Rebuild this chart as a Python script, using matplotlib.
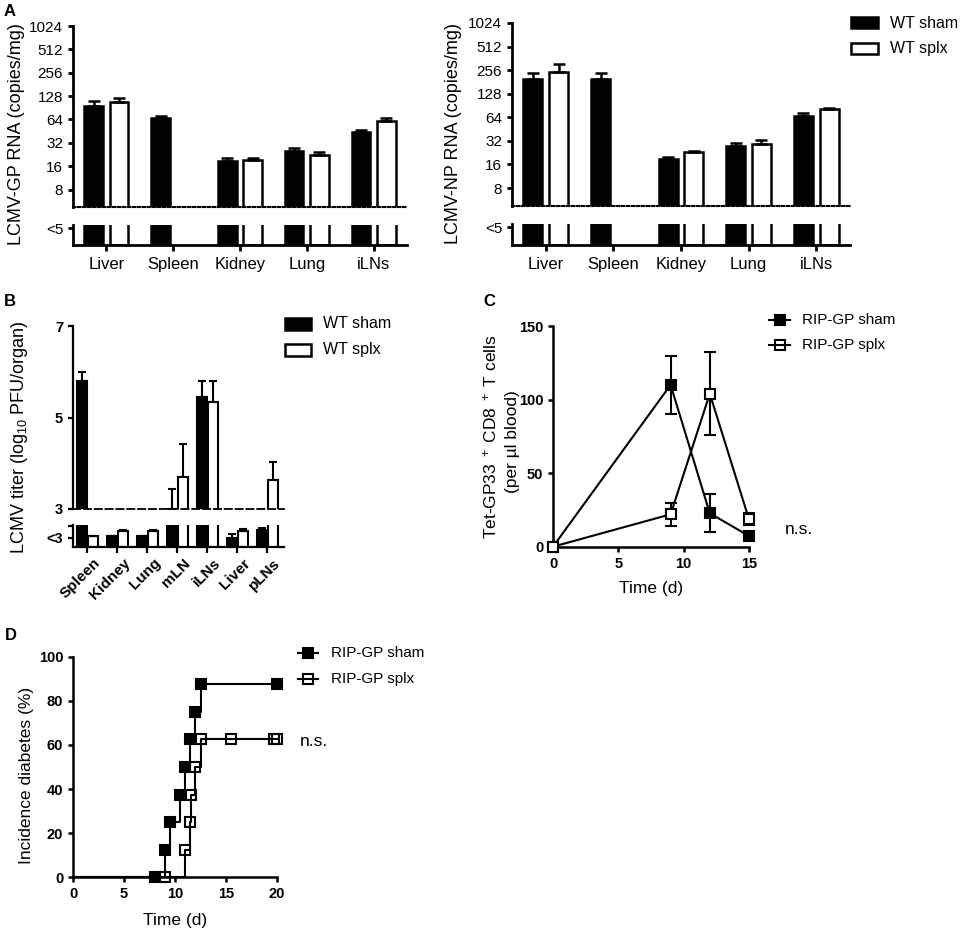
import numpy as np
import matplotlib
matplotlib.use('Agg')
import matplotlib.pyplot as plt
import matplotlib.transforms as mtrans
from matplotlib.patches import Rectangle
from matplotlib.lines import Line2D

plt.rcParams['font.family'] = ['Liberation Sans', 'DejaVu Sans']
plt.rcParams['mathtext.fontset'] = 'custom'
plt.rcParams['mathtext.rm'] = 'Liberation Sans'
plt.rcParams['mathtext.it'] = 'Liberation Sans:italic'
plt.rcParams['mathtext.bf'] = 'Liberation Sans:bold'
plt.rcParams['mathtext.default'] = 'regular'

# ---------------- data ----------------
organs_A = ['Liver', 'Spleen', 'Kidney', 'Lung', 'iLNs']
gp_sham = [96, 66, 18.5, 25.4, 44]
gp_sham_err = [15, 6, 2.2, 1.8, 2.6]
gp_splx = [108, np.nan, 19, 22.6, 62]
gp_splx_err = [14, np.nan, 1.7, 1.6, 4]
np_sham = [197, 197, 18.7, 27.7, 65.6]
np_sham_err = [39, 39, 1.5, 2.3, 6.4]
np_splx = [241, np.nan, 23, 28.9, 80.6]
np_splx_err = [64, np.nan, 1.0, 3.9, 4.4]
ticks_A = [8, 16, 32, 64, 128, 256, 512, 1024]

organs_B = ['Spleen', 'Kidney', 'Lung', 'mLN', 'iLNs', 'Liver', 'pLNs']
titer_sham = [5.8, 2.5, 2.5, 3.0, 5.45, 2.42, 2.77]
titer_sham_err = [0.2, 0.0, 0.0, 0.44, 0.35, 0.17, 0.11]
titer_splx = [2.5, 2.74, 2.74, 3.69, 5.33, 2.73, 3.63]
titer_splx_err = [0.0, 0.05, 0.05, 0.73, 0.47, 0.09, 0.39]

c_days = [0, 9, 12, 15]
c_sham = [0, 110, 22.7, 7.3]
c_sham_err = [0, 19.5, 13, 1.0]
c_splx = [0, 22, 104, 18.6]
c_splx_err = [0, 7.7, 28, 4.0]

d_sham_t = [0, 8, 9, 9.5, 10.5, 11, 11.5, 12, 12.5, 20]
d_sham_y = [0, 0, 12.5, 25, 37.5, 50, 62.5, 75, 87.5, 87.5]
d_splx_t = [0, 9, 11, 11.5, 11.6, 12, 12.5, 15.5, 19.7, 20]
d_splx_y = [0, 0, 12.5, 25, 37.5, 50, 62.5, 62.5, 62.5, 62.5]

# ---------------- layout helpers ----------------
W, H = 965, 932
fig = plt.figure(figsize=(W / 100, H / 100), dpi=100)
fig.patch.set_facecolor('white')


def fx(x):
    return x / W


def fy(y):
    return 1 - y / H


def add_ax(l, t, r, b):
    ax = fig.add_axes([l / W, 1 - b / H, (r - l) / W, (b - t) / H])
    ax.patch.set_visible(False)
    return ax


def style(ax, lw):
    for s in ['top', 'right']:
        ax.spines[s].set_visible(False)
    ax.spines['left'].set_linewidth(lw)
    ax.spines['bottom'].set_linewidth(lw)
    ax.tick_params(direction='out', width=lw, length=3.6)


def ftext(x, y, s, **kw):
    fig.text(fx(x), fy(y), s, **kw)


def legend_box(x0, y0, x1, y1, fc):
    fig.add_artist(Rectangle((fx(x0), fy(y1)), (x1 - x0) / W, (y1 - y0) / H,
                             transform=fig.transFigure, facecolor=fc,
                             edgecolor='black', linewidth=1.8))


def legend_line(x0, x1, y, mfc):
    fig.add_artist(Line2D([fx(x0), fx(x1)], [fy(y), fy(y)], transform=fig.transFigure,
                          color='black', lw=1.5))
    fig.add_artist(Line2D([fx((x0 + x1) / 2)], [fy(y)], transform=fig.transFigure,
                          marker='s', ms=6.5, mfc=mfc, mec='black', mew=1.5, ls='none'))


# ---------------- panel A ----------------
def panel_A(up, low, sham, sham_err, splx, splx_err, ybot, ylabel, ylab_x):
    axu = add_ax(*up)
    axl = add_ax(*low)
    x = np.arange(len(organs_A))
    off, w = 0.19, 0.28
    sham = np.array(sham, float)
    splx = np.array(splx, float)
    se = np.array(sham_err, float)
    pe = np.array(splx_err, float)
    m = ~np.isnan(splx)
    axu.set_yscale('log', base=2)
    for ax in (axu, axl):
        ax.bar(x - off, sham, w, color='black', edgecolor='black', linewidth=1.8)
        ax.bar(x[m] + off, splx[m], w, color='white', edgecolor='black', linewidth=1.8)
        ax.set_xlim(-0.5, 4.5)
    axu.errorbar(x - off, sham, yerr=[np.zeros_like(se), se], fmt='none', ecolor='black',
                 elinewidth=1.8, capsize=4.5, capthick=1.8)
    axu.errorbar(x[m] + off, splx[m], yerr=[np.zeros(m.sum()), pe[m]], fmt='none',
                 ecolor='black', elinewidth=1.8, capsize=4.5, capthick=1.8)
    axu.set_ylim(ybot, 1024)
    style(axu, 2.0)
    axu.spines['bottom'].set_linestyle((0, (1.2, 1.2)))
    axu.spines['bottom'].set_linewidth(1.5)
    axu.set_yticks(ticks_A)
    axu.set_yticklabels([str(t) for t in ticks_A], fontsize=11)
    axu.set_yticks([], minor=True)
    axu.tick_params(axis='x', bottom=False, labelbottom=False)
    axl.set_ylim(0, 1)
    style(axl, 2.0)
    axl.set_yticks([0.85])
    axl.set_yticklabels(['<5'], fontsize=11)
    axl.set_xticks(x)
    axl.set_xticklabels(organs_A, fontsize=12)
    axl.tick_params(axis='x', length=4.5, pad=4)
    ftext(ylab_x, 134, ylabel, rotation=90, ha='center', va='center', fontsize=13)


panel_A((73, 26, 407, 206.5), (73, 225, 407, 245), gp_sham, gp_sham_err, gp_splx, gp_splx_err,
        4.85, 'LCMV-GP RNA (copies/mg)', 17)
panel_A((512, 23, 850, 206), (512, 224, 850, 245), np_sham, np_sham_err, np_splx, np_splx_err,
        4.72, 'LCMV-NP RNA (copies/mg)', 453)

legend_box(851, 17, 878, 28, 'black')
legend_box(851, 43, 878, 54, 'white')
ftext(890, 23, 'WT sham', fontsize=11.5, va='center', ha='left')
ftext(890, 49, 'WT splx', fontsize=11.5, va='center', ha='left')

# ---------------- panel B ----------------
axbu = add_ax(73, 326, 284, 509)
axbl = add_ax(73, 525, 284, 547)
xb = np.arange(len(organs_B))
offb, wb = 0.185, 0.33
for ax in (axbu, axbl):
    ax.bar(xb - offb, titer_sham, wb, color='black', edgecolor='black', linewidth=1.5)
    ax.bar(xb + offb, titer_splx, wb, color='white', edgecolor='black', linewidth=1.5)
    ax.errorbar(xb - offb, titer_sham, yerr=[np.zeros(7), titer_sham_err], fmt='none',
                ecolor='black', elinewidth=1.5, capsize=3, capthick=1.5)
    ax.errorbar(xb + offb, titer_splx, yerr=[np.zeros(7), titer_splx_err], fmt='none',
                ecolor='black', elinewidth=1.5, capsize=3, capthick=1.5)
    ax.set_xlim(-0.48, 6.55)
axbu.set_ylim(3, 7)
style(axbu, 1.6)
axbu.spines['bottom'].set_linestyle((0, (4, 2)))
axbu.spines['bottom'].set_linewidth(1.3)
axbu.set_yticks([3, 5, 7])
axbu.set_yticklabels(['3', '5', '7'], fontsize=10.5, fontweight='bold')
axbu.tick_params(axis='x', bottom=False, labelbottom=False)
axbl.set_ylim(2, 3)
style(axbl, 1.6)
axbl.set_yticks([2.41])
axbl.set_yticklabels(['<3'], fontsize=10.5, fontweight='bold')
axbl.set_yticks([2.97], minor=True)
axbl.tick_params(axis='y', which='minor', direction='out', width=1.6, length=3.6)
axbl.set_xticks(xb)
axbl.set_xticklabels(organs_B, fontsize=11, fontweight='bold', rotation=45,
                     ha='right', va='top', rotation_mode='anchor')
axbl.tick_params(axis='x', length=4.5, pad=2)
for lab in axbl.get_xticklabels():
    lab.set_transform(lab.get_transform() + mtrans.ScaledTranslation(6 / 100, 0, fig.dpi_scale_trans))
ftext(20, 437, 'LCMV titer (log$_{10}$ PFU/organ)', rotation=90, ha='center', va='center',
      fontsize=13)

legend_box(285, 318, 311, 330, 'black')
legend_box(285, 344, 311, 356, 'white')
ftext(323, 324, 'WT sham', fontsize=11.5, va='center', ha='left')
ftext(323, 350, 'WT splx', fontsize=11.5, va='center', ha='left')

# ---------------- panel C ----------------
axc = add_ax(553, 326, 749, 546.7)
axc.errorbar(c_days, c_sham, yerr=c_sham_err, fmt='none', ecolor='black', elinewidth=1.5,
             capsize=4, capthick=1.5, clip_on=False)
axc.errorbar(c_days, c_splx, yerr=c_splx_err, fmt='none', ecolor='black', elinewidth=1.5,
             capsize=4, capthick=1.5, clip_on=False)
axc.plot(c_days, c_sham, '-s', color='black', lw=1.5, ms=6.5, mfc='black', mec='black',
         mew=1.5, clip_on=False, zorder=3)
axc.plot(c_days, c_splx, '-s', color='black', lw=1.5, ms=6.5, mfc='white', mec='black',
         mew=1.5, clip_on=False, zorder=4)
axc.set_xlim(0, 15)
axc.set_ylim(0, 150)
style(axc, 1.8)
axc.set_xticks([0, 5, 10, 15])
axc.set_xticklabels(['0', '5', '10', '15'], fontsize=10.5, fontweight='bold')
axc.set_yticks([0, 50, 100, 150])
axc.set_yticklabels(['0', '50', '100', '150'], fontsize=10.5, fontweight='bold')
ftext(490, 437, 'Tet-GP33 $^+$ CD8 $^+$ T cells', rotation=90, ha='center', va='center',
      fontsize=12.5)
ftext(512, 442, '(per µl blood)', rotation=90, ha='center', va='center', fontsize=12.5)
ftext(651, 588, 'Time (d)', ha='center', va='center', fontsize=12.5)
ftext(785, 530, 'n.s.', ha='left', va='center', fontsize=12.5)
legend_line(769, 790, 320, 'black')
legend_line(769, 790, 345, 'none')
ftext(802, 320, 'RIP-GP sham', fontsize=11, va='center', ha='left')
ftext(802, 345, 'RIP-GP splx', fontsize=11, va='center', ha='left')

# ---------------- panel D ----------------
axd = add_ax(73, 656.7, 277, 877.3)
axd.step(d_sham_t, d_sham_y, where='post', color='black', lw=1.5, clip_on=False)
axd.step(d_splx_t, d_splx_y, where='post', color='black', lw=1.5, clip_on=False)
axd.plot(d_sham_t[1:], d_sham_y[1:], 's', ms=6.5, mfc='black', mec='black', mew=1.5,
         clip_on=False, zorder=3)
axd.plot(d_splx_t[1:], d_splx_y[1:], 's', ms=6.5, mfc='none', mec='black', mew=1.5,
         clip_on=False, zorder=4)
axd.set_xlim(0, 20)
axd.set_ylim(0, 100)
style(axd, 1.8)
axd.set_xticks([0, 5, 10, 15, 20])
axd.set_xticklabels(['0', '5', '10', '15', '20'], fontsize=10.5, fontweight='bold')
axd.set_yticks([0, 20, 40, 60, 80, 100])
axd.set_yticklabels(['0', '20', '40', '60', '80', '100'], fontsize=10.5, fontweight='bold')
ftext(27, 775, 'Incidence diabetes (%)', rotation=90, ha='center', va='center', fontsize=12.5)
ftext(175, 920, 'Time (d)', ha='center', va='center', fontsize=12.5)
ftext(300, 741, 'n.s.', ha='left', va='center', fontsize=12.5)
legend_line(298, 318, 653, 'black')
legend_line(298, 318, 679, 'none')
ftext(331, 653, 'RIP-GP sham', fontsize=11, va='center', ha='left')
ftext(331, 679, 'RIP-GP splx', fontsize=11, va='center', ha='left')

# ---------------- panel letters ----------------
for lab, (x, y) in {'A': (10, 11), 'B': (10, 302), 'C': (489, 302), 'D': (11, 635)}.items():
    ftext(x, y, lab, fontsize=12, fontweight='bold', ha='center', va='center')

fig.savefig('out.png', dpi=100)
